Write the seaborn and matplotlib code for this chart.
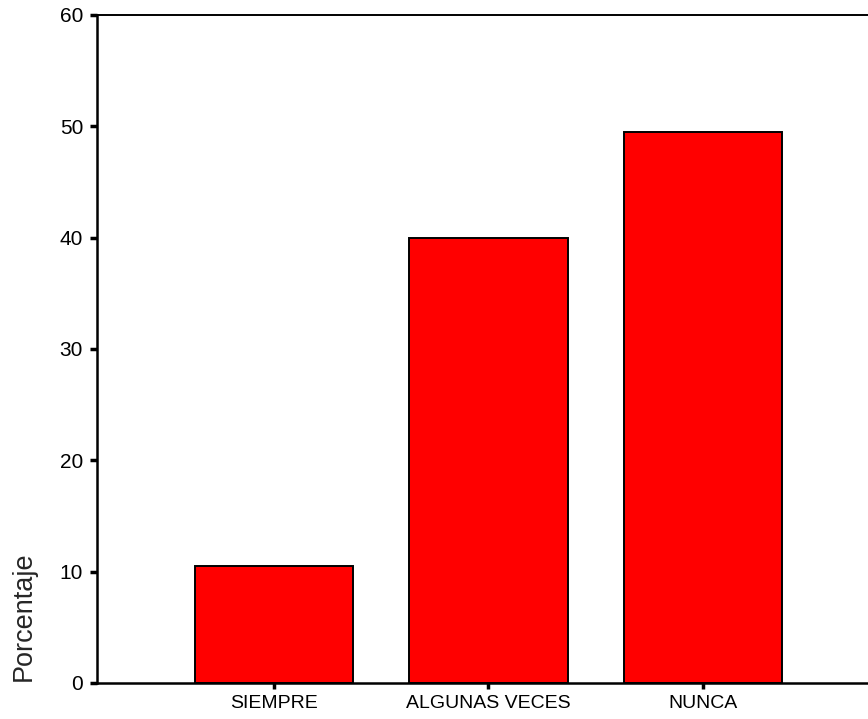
import matplotlib
matplotlib.use('Agg')
import matplotlib.pyplot as plt
import seaborn as sns
import pandas as pd

# Datos del gráfico
categorias = ['SIEMPRE', 'ALGUNAS VECES', 'NUNCA']
porcentajes = [10.5, 40.0, 49.5]

df = pd.DataFrame({'Categoria': categorias, 'Porcentaje': porcentajes})

sns.set_style('white')
plt.rcParams['font.family'] = ['Liberation Sans', 'DejaVu Sans']

fig = plt.figure(figsize=(8.68, 7.19), dpi=100)
ax = fig.add_axes([97 / 868, 36 / 719, (880 - 97) / 868, 668 / 719])

sns.barplot(data=df, x='Categoria', y='Porcentaje', color='#ff0000',
            edgecolor='black', linewidth=1.4, width=0.737, saturation=1, ax=ax)

ax.set_xlim(-0.825, 2.825)
ax.set_ylim(0, 60)
ax.set_yticks(range(0, 61, 10))
ax.set_xlabel('')
ax.set_ylabel('')

ax.spines['right'].set_visible(False)
ax.spines['top'].set_linewidth(1.4)
ax.spines['left'].set_linewidth(1.8)
ax.spines['bottom'].set_linewidth(1.8)
for s in ax.spines.values():
    s.set_color('black')

ax.tick_params(axis='y', direction='out', length=5, width=2.5, pad=5,
               labelsize=15, left=True, colors='black')
ax.tick_params(axis='x', direction='out', length=4, width=2.5, pad=5,
               labelsize=14, bottom=True, colors='black')

fig.text(24 / 868, 1 - 616 / 719, 'Porcentaje', rotation=90, fontsize=19.5,
         ha='center', va='center')

fig.savefig('out.png', dpi=100)
